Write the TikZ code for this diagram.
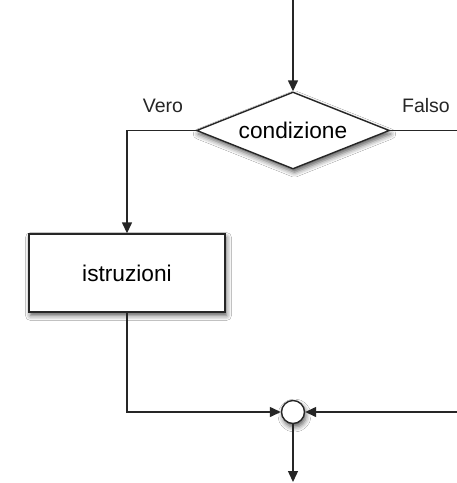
\documentclass[tikz,border=0pt]{standalone}
\usepackage{fontspec}
\setmainfont{Liberation Sans}
\usetikzlibrary{arrows.meta,shapes.geometric,shadows.blur}
\begin{document}
\begin{tikzpicture}[x=1pt,y=-1pt,
  line/.style={line width=1.4pt, draw=black!85},
  arr/.style={line, -{Triangle[length=11pt,width=10pt]}},
  shade/.style={blur shadow={shadow xshift=1.5pt, shadow yshift=-3.5pt, shadow blur radius=5pt, shadow opacity=65}},
  decision/.style={diamond, aspect=2.5, minimum width=193pt, minimum height=77pt, inner sep=0pt,
    draw=black!85, line width=1.4pt, fill=white, shade, font=\fontsize{22.7}{26}\selectfont},
  process/.style={rectangle, minimum width=196pt, minimum height=78pt, inner sep=0pt,
    draw=black!85, line width=1.4pt, fill=white, shade, font=\fontsize{22.7}{26}\selectfont},
  junction/.style={circle, minimum size=23pt, inner sep=0pt, draw=black!85, line width=1.4pt, fill=white, shade},
  lab/.style={font=\fontsize{19.5}{22}\selectfont, text=black!85}]
\useasboundingbox (0,0) rectangle (457,483);
\fill[white] (0,0) rectangle (457,483);
\node[decision] (cond) at (293,130.5) {condizione};
\node[process] (box) at (127,273) {istruzioni};
\node[junction] (join) at (293,412) {};
\node[lab] (vero) at (163,106) {Vero};
\node[lab] (falso) at (426,106) {Falso};
\coordinate (top) at (293,0);
\coordinate (bot) at (293,482);
\coordinate (rt) at (459,130.5);
\coordinate (rb) at (459,412);
\draw[arr] (top) -- (cond.north);
\draw[arr] (cond.west) -| (box.north);
\draw[arr] (box.south) |- (join.west);
\draw[arr] (cond.east) -- (rt) -- (rb) -- (join.east);
\draw[arr] (join.south) -- (bot);
\end{tikzpicture}
\end{document}
